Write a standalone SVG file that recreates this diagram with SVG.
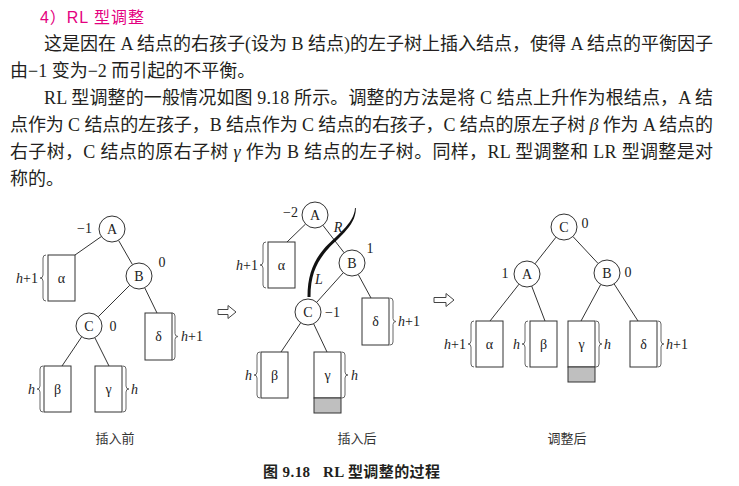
<svg xmlns="http://www.w3.org/2000/svg" width="739" height="486" viewBox="0 0 739 486">
<style>
.body{font-family:"Liberation Serif","Noto Sans CJK SC",serif;font-size:18px;fill:#231f20}
.title{font-family:"Liberation Sans","Noto Sans CJK SC",sans-serif;font-size:16px;fill:#e4007f}
.n{fill:#fff;stroke:#333;stroke-width:1}
.box{fill:#fff;stroke:#333;stroke-width:1}
.shade{fill:#bfbfbf;stroke:#333;stroke-width:1}
.lbl{font-family:"Liberation Serif",serif;font-size:14px;fill:#222;text-anchor:middle}
.num{font-family:"Liberation Serif",serif;font-size:14px;fill:#222}
.hl{font-family:"Liberation Serif",serif;font-size:14px;fill:#222}
.e{stroke:#333;stroke-width:1;fill:none}
.br{fill:none;stroke:#666;stroke-width:1}
.sub{font-family:"Noto Sans CJK SC",sans-serif;font-size:13px;fill:#333;text-anchor:middle}
.cap{font-family:"Liberation Serif","Noto Sans CJK SC",serif;font-size:15px;font-weight:bold;fill:#231f20;white-space:pre}
.arr{fill:#fff;stroke:#444;stroke-width:1}
</style>
<rect width="739" height="486" fill="#fff"/>

<g id="text">
<text class="title" x="40" y="23" textLength="104" lengthAdjust="spacing">4）RL 型调整</text>
<text class="body" x="44" y="50" textLength="669" lengthAdjust="spacing">这是因在 A 结点的右孩子(设为 B 结点)的左子树上插入结点，使得 A 结点的平衡因子</text>
<text class="body" x="10" y="77">由−1 变为−2 而引起的不平衡。</text>
<text class="body" x="44" y="104" textLength="669" lengthAdjust="spacing">RL 型调整的一般情况如图 9.18 所示。调整的方法是将 C 结点上升作为根结点，A 结</text>
<text class="body" x="10" y="131" textLength="703" lengthAdjust="spacing">点作为 C 结点的左孩子，B 结点作为 C 结点的右孩子，C 结点的原左子树 <tspan font-style="italic">β</tspan> 作为 A 结点的</text>
<text class="body" x="10" y="158" textLength="703" lengthAdjust="spacing">右子树，C 结点的原右子树 <tspan font-style="italic">γ</tspan> 作为 B 结点的左子树。同样，RL 型调整和 LR 型调整是对</text>
<text class="body" x="10" y="185">称的。</text>
</g>

<g id="connectors">
<!-- panel 1 -->
<line class="e" x1="101.4" y1="236.5" x2="75" y2="255"/>
<line class="e" x1="118.5" y1="240.3" x2="132.5" y2="264.7"/>
<line class="e" x1="129.8" y1="285.2" x2="98.2" y2="316.8"/>
<line class="e" x1="144.7" y1="287.7" x2="157" y2="313"/>
<line class="e" x1="81.7" y1="336.8" x2="62" y2="366"/>
<line class="e" x1="94.8" y1="337.6" x2="109" y2="366"/>
<!-- panel 2 -->
<line class="e" x1="305.6" y1="224" x2="287" y2="242"/>
<line class="e" x1="322.9" y1="225.3" x2="344.1" y2="252.7"/>
<line class="e" x1="343.3" y1="272.7" x2="316.7" y2="302.3" stroke-width="1.8"/>
<line class="e" x1="358.2" y1="274.4" x2="371" y2="298"/>
<line class="e" x1="300.7" y1="322.8" x2="281" y2="352"/>
<line class="e" x1="313.6" y1="323.7" x2="327" y2="352"/>
<!-- panel 3 -->
<line class="e" x1="556" y1="237.2" x2="535" y2="263.8"/>
<line class="e" x1="572.9" y1="236.5" x2="598.1" y2="263.5"/>
<line class="e" x1="519" y1="284.2" x2="490" y2="321"/>
<line class="e" x1="531.7" y1="286.1" x2="545" y2="321"/>
<line class="e" x1="600.8" y1="284.4" x2="581" y2="321"/>
<line class="e" x1="614.1" y1="283.9" x2="638" y2="321"/>
</g>

<!-- Panel 1 -->
<g id="p1-A"><circle class="n" cx="112" cy="229" r="13"/><text class="lbl" x="112" y="234">A</text><text class="num" x="92" y="233" text-anchor="end">−1</text></g>
<g id="p1-B"><circle class="n" cx="139" cy="276" r="13"/><text class="lbl" x="139" y="281">B</text><text class="num" x="162" y="267" text-anchor="middle">0</text></g>
<g id="p1-C"><circle class="n" cx="89" cy="326" r="13"/><text class="lbl" x="89" y="331">C</text><text class="num" x="113" y="331" text-anchor="middle">0</text></g>
<g id="p1-alpha"><rect class="box" x="48" y="255" width="27" height="46"/><text class="lbl" x="61.5" y="283">α</text>
<path class="br" d="M46 255 Q43 255 43 258 L43 275 Q43 278 40 278 Q43 278 43 281 L43 298 Q43 301 46 301"/>
<text class="hl" x="38" y="283" text-anchor="end"><tspan font-style="italic">h</tspan>+1</text></g>
<g id="p1-delta"><rect class="box" x="145" y="313" width="27" height="47"/><text class="lbl" x="158.5" y="341">δ</text>
<path class="br" d="M172 313 Q175 313 175 316 L175 333.5 Q175 336.5 178 336.5 Q175 336.5 175 339.5 L175 357 Q175 360 172 360"/>
<text class="hl" x="181" y="341"><tspan font-style="italic">h</tspan>+1</text></g>
<g id="p1-beta"><rect class="box" x="44" y="366" width="27" height="46"/><text class="lbl" x="57.5" y="394">β</text>
<path class="br" d="M43 366 Q40 366 40 369 L40 386 Q40 389 37 389 Q40 389 40 392 L40 409 Q40 412 43 412"/>
<text class="hl" x="35" y="394" text-anchor="end" font-style="italic">h</text></g>
<g id="p1-gamma"><rect class="box" x="95" y="366" width="27" height="46"/><text class="lbl" x="108.5" y="394">γ</text>
<path class="br" d="M123 366 Q126 366 126 369 L126 386 Q126 389 129 389 Q126 389 126 392 L126 409 Q126 412 123 412"/>
<text class="hl" x="131" y="394" font-style="italic">h</text></g>
<text class="sub" x="115" y="443">插入前</text>

<g id="arrow1"><path class="arr" d="M218 309.5 L228 309.5 L228 305.5 L236 312 L228 318.5 L228 314.5 L218 314.5 Z"/></g>

<!-- Panel 2 -->
<g id="p2-A"><circle class="n" cx="315" cy="215" r="13"/><text class="lbl" x="315" y="220">A</text><text class="num" x="298" y="217" text-anchor="end">−2</text></g>
<g id="p2-B"><circle class="n" cx="352" cy="263" r="13"/><text class="lbl" x="352" y="268">B</text><text class="num" x="370" y="253" text-anchor="middle">1</text></g>
<g id="p2-C"><circle class="n" cx="308" cy="312" r="13"/><text class="lbl" x="308" y="317">C</text><text class="num" x="325" y="317">−1</text></g>
<g id="p2-path">
<path fill="#111" d="M355 208 C354.5 224 334 237 323.8 249 C313.5 261 307.5 275 307.5 297 L310.5 297 C310.5 275 316.5 263 326.2 251 C336 239 356.5 226 355.8 208 Z"/>
<text class="num" x="338" y="232" text-anchor="middle" font-style="italic">R</text>
<text class="num" x="319" y="284" text-anchor="middle" font-style="italic">L</text>
</g>
<g id="p2-alpha"><rect class="box" x="268" y="242" width="27" height="46"/><text class="lbl" x="281.5" y="270">α</text>
<path class="br" d="M266 242 Q263 242 263 245 L263 262 Q263 265 260 265 Q263 265 263 268 L263 285 Q263 288 266 288"/>
<text class="hl" x="258" y="270" text-anchor="end"><tspan font-style="italic">h</tspan>+1</text></g>
<g id="p2-delta"><rect class="box" x="362" y="298" width="27" height="47"/><text class="lbl" x="375.5" y="326">δ</text>
<path class="br" d="M390 298 Q393 298 393 301 L393 318.5 Q393 321.5 396 321.5 Q393 321.5 393 324.5 L393 342 Q393 345 390 345"/>
<text class="hl" x="398" y="326"><tspan font-style="italic">h</tspan>+1</text></g>
<g id="p2-beta"><rect class="box" x="261" y="352" width="27" height="46"/><text class="lbl" x="274.5" y="380">β</text>
<path class="br" d="M260 352 Q257 352 257 355 L257 372 Q257 375 254 375 Q257 375 257 378 L257 395 Q257 398 260 398"/>
<text class="hl" x="252" y="380" text-anchor="end" font-style="italic">h</text></g>
<g id="p2-gamma"><rect class="box" x="314" y="352" width="27" height="46"/><rect class="shade" x="314" y="398" width="27" height="15"/><text class="lbl" x="327.5" y="380">γ</text>
<path class="br" d="M342 352 Q345 352 345 355 L345 372 Q345 375 348 375 Q345 375 345 378 L345 395 Q345 398 342 398"/>
<text class="hl" x="351" y="380" font-style="italic">h</text></g>
<text class="sub" x="357" y="443">插入后</text>

<g id="arrow2"><path class="arr" d="M434 297.5 L446 297.5 L446 293.5 L454 300 L446 306.5 L446 302.5 L434 302.5 Z"/></g>

<!-- Panel 3 -->
<g id="p3-C"><circle class="n" cx="564" cy="227" r="13"/><text class="lbl" x="564" y="232">C</text><text class="num" x="585" y="228" text-anchor="middle">0</text></g>
<g id="p3-A"><circle class="n" cx="527" cy="274" r="13"/><text class="lbl" x="527" y="279">A</text><text class="num" x="505" y="278" text-anchor="middle">1</text></g>
<g id="p3-B"><circle class="n" cx="607" cy="273" r="13"/><text class="lbl" x="607" y="278">B</text><text class="num" x="628" y="277" text-anchor="middle">0</text></g>
<g id="p3-alpha"><rect class="box" x="476" y="321" width="27" height="46"/><text class="lbl" x="489.5" y="349">α</text>
<path class="br" d="M474 321 Q471 321 471 324 L471 341 Q471 344 468 344 Q471 344 471 347 L471 364 Q471 367 474 367"/>
<text class="hl" x="466" y="349" text-anchor="end"><tspan font-style="italic">h</tspan>+1</text></g>
<g id="p3-beta"><rect class="box" x="530" y="321" width="27" height="46"/><text class="lbl" x="543.5" y="349">β</text>
<path class="br" d="M528 321 Q525 321 525 324 L525 341 Q525 344 522 344 Q525 344 525 347 L525 364 Q525 367 528 367"/>
<text class="hl" x="520" y="349" text-anchor="end" font-style="italic">h</text></g>
<g id="p3-gamma"><rect class="box" x="568" y="321" width="27" height="46"/><rect class="shade" x="568" y="367" width="27" height="15"/><text class="lbl" x="581.5" y="349">γ</text>
<path class="br" d="M596 321 Q599 321 599 324 L599 341 Q599 344 602 344 Q599 344 599 347 L599 364 Q599 367 596 367"/>
<text class="hl" x="604" y="349" font-style="italic">h</text></g>
<g id="p3-delta"><rect class="box" x="630" y="321" width="27" height="46"/><text class="lbl" x="643.5" y="349">δ</text>
<path class="br" d="M658 321 Q661 321 661 324 L661 341 Q661 344 664 344 Q661 344 661 347 L661 364 Q661 367 658 367"/>
<text class="hl" x="666" y="349"><tspan font-style="italic">h</tspan>+1</text></g>
<text class="sub" x="567" y="443">调整后</text>

<text class="cap" x="263" y="477" textLength="177" lengthAdjust="spacing">图 9.18   RL 型调整的过程</text>
</svg>
